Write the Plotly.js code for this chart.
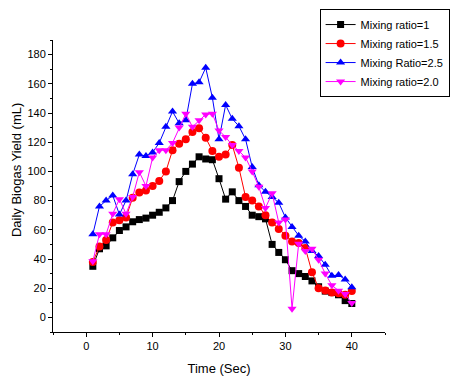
<!DOCTYPE html>
<html>
<head>
<meta charset="utf-8">
<script src="https://cdn.plot.ly/plotly-3.0.1.min.js"></script>
<style>html,body{margin:0;padding:0;background:#fff;}#chart{width:451px;height:380px;}</style>
</head>
<body>
<div id="chart"></div>
<script>
const time = [1,2,3,4,5,6,7,8,9,10,11,12,13,14,15,16,17,18,19,20,21,22,23,24,25,26,27,28,29,30,31,32,33,34,35,36,37,38,39,40];
const ratio1 = [35,47,49,54.5,59.5,62,65.5,67,68,70,72,75,80,93,100,105,110,108.5,108,95,81,86,80,76,70,69,67.5,50,44.5,39.5,32,30,28,25,21,18,17,15.5,11.5,9.5];
const ratio15 = [38,48.5,53,65,66.5,68.5,82,85.5,87,90,93.5,100,114.5,119,122,127,129.5,123,114,110,111.5,118,102.5,82.5,80,76,70,65,60.5,56,52,51,47.5,31,20,18.5,17,16.5,15.5,18];
const ratio25 = [57,76,80,83.5,70.5,80,98,111.5,110.5,113,119.5,130.5,141,133,135,160,161,171,150.5,122,145.5,136,131,122,103,90.5,86,82.5,78.5,68.5,62,56,52,45.5,42,36,28.5,29,26,20.7];
const ratio20 = [38.5,57,57,71,81,71,82.5,99.5,90,109.5,114.5,114.5,119.5,130,139.5,130.5,135,139,139.5,128,123.5,118,114,109.5,100,89.5,75,85,65,67,6,50.5,45.5,47,39.5,30,22,18.3,16,9.8];
const names = ["Mixing ratio=1","Mixing ratio=1.5","Mixing Ratio=2.5","Mixing ratio=2.0"];
const colors = ["#000000","#ff0000","#0000ff","#ff00ff"];
const symbols = ["square","circle","triangle-up","triangle-down"];
const sizes = [7,8,8,8];
const series = [ratio1, ratio15, ratio25, ratio20];

const traces = series.map((ys, i) => ({
  x: time, y: ys, name: names[i], type: 'scatter', mode: 'lines+markers',
  line: {color: colors[i], width: 1},
  marker: {color: colors[i], symbol: symbols[i], size: sizes[i], line: {width: 0}}
}));

const layout = {
  width: 451, height: 380,
  margin: {l: 53, r: 66, t: 40, b: 48, autoexpand: false},
  paper_bgcolor: '#fff', plot_bgcolor: '#fff',
  font: {family: 'Liberation Sans, Arial, sans-serif', size: 11, color: '#000'},
  showlegend: true,
  legend: {x: 0.803, y: 1.106, xanchor: 'left', yanchor: 'top',
           bordercolor: '#000', borderwidth: 1, bgcolor: '#fff',
           font: {size: 11, color: '#000'}, tracegroupgap: 0, itemwidth: 30},
  xaxis: {range: [-5, 45], tickvals: [0,10,20,30,40], ticks: 'outside', ticklen: 4,
          showgrid: false, zeroline: false, showline: true, linecolor: '#000', linewidth: 1,
          tickcolor: '#000', automargin: false,
          minor: {dtick: 5, tick0: 0, ticks: 'outside', ticklen: 2, tickcolor: '#000', showgrid: false},
          title: {text: 'Time (Sec)', font: {size: 13}, standoff: 12}},
  yaxis: {range: [-10, 190], tickvals: [0,20,40,60,80,100,120,140,160,180], ticks: 'outside', ticklen: 4,
          showgrid: false, zeroline: false, showline: true, linecolor: '#000', linewidth: 1,
          tickcolor: '#000', automargin: false,
          minor: {dtick: 10, tick0: 0, ticks: 'outside', ticklen: 2, tickcolor: '#000', showgrid: false}},
  annotations: [{text: 'Daily Biogas Yield (mL)', textangle: -90, xref: 'paper', yref: 'paper',
                 x: -0.108, y: 0.555, xanchor: 'center', yanchor: 'middle', showarrow: false,
                 font: {size: 13, color: '#000'}}]
};
Plotly.newPlot('chart', traces, layout, {displayModeBar: false, staticPlot: true});
</script>
</body>
</html>
